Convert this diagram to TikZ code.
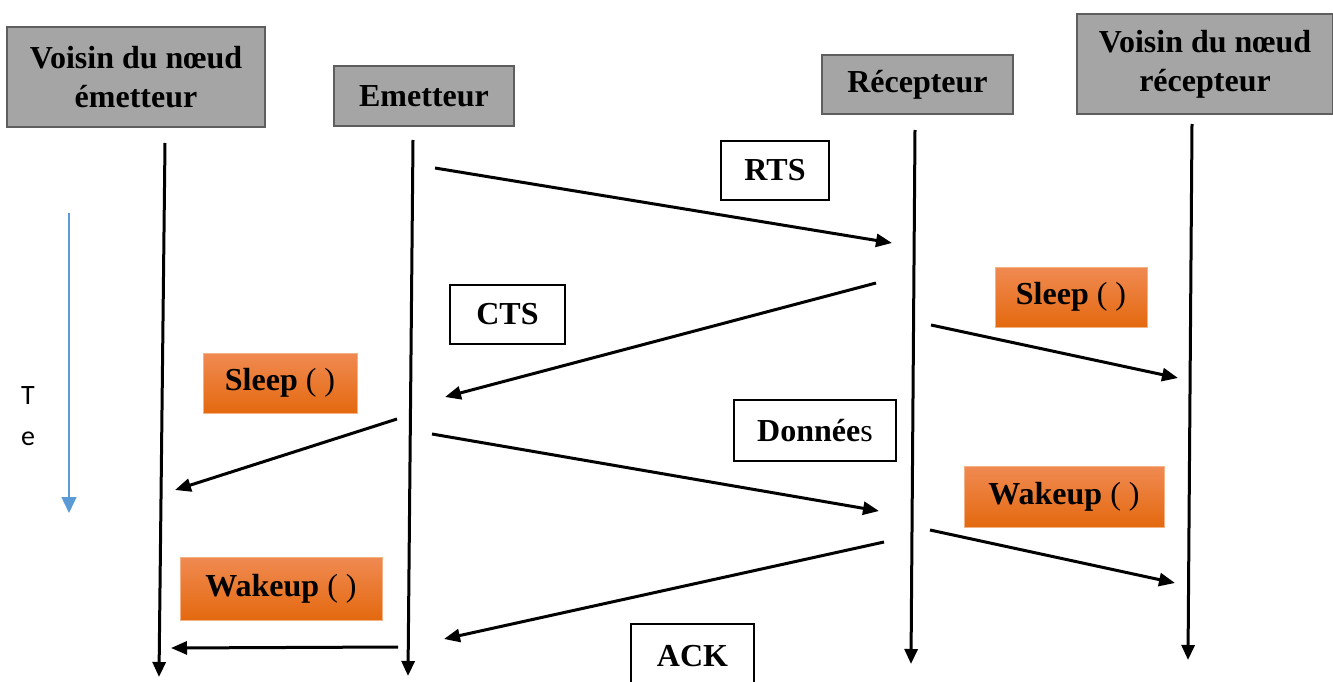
\documentclass[tikz,border=0pt]{standalone}
\usepackage{fontspec}
\setmainfont{Liberation Serif}
\newfontfamily\axisfont{Carlito}
\usetikzlibrary{arrows.meta}
\definecolor{hdrfill}{HTML}{A5A5A5}
\definecolor{hdrline}{HTML}{5E5E5E}
\definecolor{ortop}{HTML}{F08A52}
\definecolor{orbot}{HTML}{E4690F}
\definecolor{orline}{HTML}{F4B183}
\definecolor{timeblue}{HTML}{5B9BD5}
\tikzset{
  hdr/.style={draw=hdrline, line width=2.2pt, fill=hdrfill, align=center, inner sep=0pt,
    font=\fontsize{32}{39}\selectfont\bfseries},
  msg/.style={draw=black, line width=2.4pt, fill=white, inner sep=0pt,
    font=\fontsize{32}{38}\selectfont\bfseries},
  act/.style={draw=orline, line width=1pt, top color=ortop, bottom color=orbot, inner sep=0pt,
    font=\fontsize{32}{38}\selectfont},
  life/.style={line width=3pt, -{Triangle[length=15pt,width=13pt]}},
  sig/.style={line width=3pt, -{Triangle[length=16pt,width=13pt]}},
}
\begin{document}
\begin{tikzpicture}[x=1pt,y=-1pt]
\clip (0,0) rectangle (1333,682);
\fill[white] (0,0) rectangle (1333,682);

% participants
\node[hdr, minimum width=258pt, minimum height=100pt] (vE) at (136,77) {Voisin du nœud\\émetteur};
\node[hdr, minimum width=180pt, minimum height=60pt] (em) at (424,96) {Emetteur};
\node[hdr, minimum width=191pt, minimum height=59pt] (re) at (917.5,84.5) {Récepteur};
\node[hdr, minimum width=256pt, minimum height=100pt] (vR) at (1205,64) {Voisin du nœud\\récepteur};

% lifelines
\coordinate (vEt) at (165,143); \coordinate (vEb) at (159,677);
\coordinate (emt) at (413,140); \coordinate (emb) at (408,676);
\coordinate (ret) at (915,130); \coordinate (reb) at (911,664);
\coordinate (vRt) at (1192,124); \coordinate (vRb) at (1188,660);
\draw[life] (vEt) -- (vEb);
\draw[life] (emt) -- (emb);
\draw[life] (ret) -- (reb);
\draw[life] (vRt) -- (vRb);

% time axis
\coordinate (tA) at (69,213); \coordinate (tB) at (69,513);
\draw[timeblue, line width=1.3pt, -{Triangle[length=16pt,width=15pt]}] (tA) -- (tB);
\node[font=\axisfont\fontsize{28}{34}\selectfont, anchor=base] (tT) at (28,404) {T};
\node[font=\axisfont\fontsize{28}{34}\selectfont, anchor=base] (tE) at (28,445) {e};

% message labels
\node[msg, minimum width=108pt, minimum height=59pt] (rts) at (775,170.5) {RTS};
\node[msg, minimum width=115pt, minimum height=59pt] (cts) at (507.5,314.5) {CTS};
\node[msg, minimum width=162pt, minimum height=61pt] (don) at (815,430.5) {Donnée\textmd{s}};
\node[msg, minimum width=123pt, minimum height=80pt] (ack) at (692.5,664) {};
\node[font=\fontsize{32}{38}\selectfont\bfseries, anchor=base] (ackt) at (692.5,666) {ACK};

% sleep / wakeup notifications
\node[act, minimum width=152pt, minimum height=60pt] (slR) at (1071,297) {\textbf{Sleep} ( )};
\node[act, minimum width=154pt, minimum height=60pt] (slL) at (280,383) {\textbf{Sleep} ( )};
\node[act, minimum width=200pt, minimum height=61pt] (wkR) at (1064,496.5) {\textbf{Wakeup} ( )};
\node[act, minimum width=202pt, minimum height=63pt] (wkL) at (281,588.5) {\textbf{Wakeup} ( )};

% message arrows
\coordinate (a1) at (435,168);  \coordinate (b1) at (892,243);
\coordinate (a2) at (876,283);  \coordinate (b2) at (445,397);
\coordinate (a3) at (931,325);  \coordinate (b3) at (1178,378);
\coordinate (a4) at (397,419);  \coordinate (b4) at (175,490);
\coordinate (a5) at (432,434);  \coordinate (b5) at (879,511);
\coordinate (a6) at (930,530);  \coordinate (b6) at (1175,583);
\coordinate (a7) at (884,542);  \coordinate (b7) at (444,639);
\coordinate (a8) at (398,647);  \coordinate (b8) at (171,648);
\draw[sig] (a1) -- (b1);
\draw[sig] (a2) -- (b2);
\draw[sig] (a3) -- (b3);
\draw[sig] (a4) -- (b4);
\draw[sig] (a5) -- (b5);
\draw[sig] (a6) -- (b6);
\draw[sig] (a7) -- (b7);
\draw[sig] (a8) -- (b8);
\end{tikzpicture}
\end{document}
